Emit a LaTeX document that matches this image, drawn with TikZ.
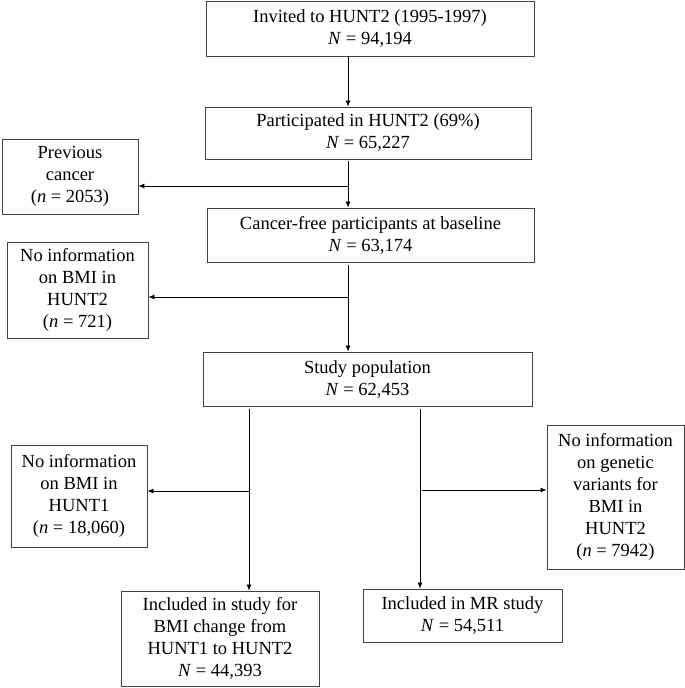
\documentclass[tikz,border=0pt]{standalone}
\usepackage{fontspec}
\setmainfont{Liberation Serif}
\usetikzlibrary{arrows.meta}
\begin{document}
\begin{tikzpicture}[x=1pt,y=-1pt,
  box/.style={draw=black!75, line width=0.9pt, inner sep=0pt, align=center,
    font=\fontsize{18.5}{22}\selectfont},
  arr/.style={-{Latex[length=6pt,width=5pt]}, line width=0.8pt},
  ]
\useasboundingbox (0,0) rectangle (685,688);
\node[box, minimum width=328pt, minimum height=55pt] (b1) at (370,28.5)
  {Invited to HUNT2 (1995-1997)\\\textit{N} = 94,194};
\node[box, minimum width=326pt, minimum height=52pt] (b2) at (368,133)
  {Participated in HUNT2 (69\%)\\\textit{N} = 65,227};
\node[box, minimum width=136pt, minimum height=75pt] (b3) at (70,176.5)
  {Previous\\cancer\\(\textit{n} = 2053)};
\node[box, minimum width=327pt, minimum height=54pt] (b4) at (370.5,235)
  {Cancer-free participants at baseline\\\textit{N} = 63,174};
\node[box, minimum width=141pt, minimum height=96pt] (b5) at (77.5,290)
  {No information\\on BMI in\\HUNT2\\(\textit{n} = 721)};
\node[box, minimum width=329pt, minimum height=54pt] (b6) at (367.5,379)
  {Study population\\\textit{N} = 62,453};
\node[box, minimum width=136pt, minimum height=102pt] (b7) at (79,496)
  {No information\\on BMI in\\HUNT1\\(\textit{n} = 18,060)};
\node[box, minimum width=137pt, minimum height=144pt] (b8) at (615.5,497)
  {No information\\on genetic\\variants for\\BMI in\\HUNT2\\(\textit{n} = 7942)};
\node[box, minimum width=198pt, minimum height=95pt] (b9) at (220,638.5)
  {Included in study for\\BMI change from\\HUNT1 to HUNT2\\\textit{N} = 44,393};
\node[box, minimum width=199pt, minimum height=53pt] (b10) at (462.5,615.5)
  {Included in MR study\\\textit{N} = 54,511};
\coordinate (xa) at (348,0);
\coordinate (j1) at (348,186);
\coordinate (j2) at (348,297);
\coordinate (j3) at (249,491);
\coordinate (j4) at (420,490);
\draw[arr] (b1.south -| xa) -- (b2.north -| xa);
\draw[arr, shorten <=2pt] (b2.south -| j1) -- (b4.north -| j1);
\draw[arr] (j1) -- (b3.east |- j1);
\draw[arr, shorten <=3pt] (b4.south -| j2) -- (b6.north -| j2);
\draw[arr] (j2) -- (b5.east |- j2);
\draw[arr, shorten <=3pt] (b6.south -| j3) -- (b9.north -| j3);
\draw[arr] (j3) -- (b7.east |- j3);
\draw[arr, shorten <=3pt] (b6.south -| j4) -- (b10.north -| j4);
\draw[arr, shorten <=2pt] (j4) -- (b8.west |- j4);
\end{tikzpicture}
\end{document}
